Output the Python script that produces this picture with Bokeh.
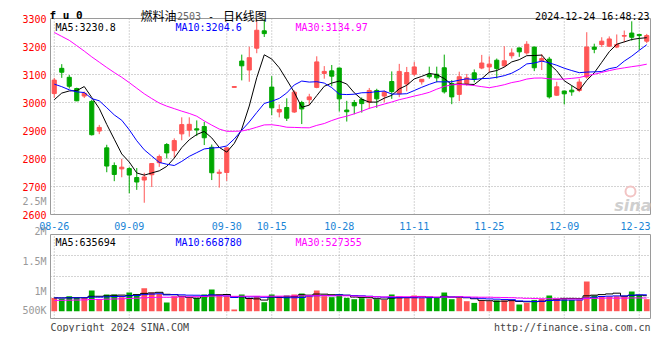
import pandas as pd
from bokeh.plotting import figure
from bokeh.models import Range1d, ColumnDataSource
from bokeh.core.properties import value
from bokeh.embed import file_html
from bokeh.resources import INLINE

# ---------------- data ----------------
dates = ["08-26", "08-27", "08-28", "08-29", "08-30",
         "09-02", "09-03", "09-04", "09-05", "09-06", "09-09", "09-10", "09-11", "09-12", "09-13",
         "09-18", "09-19", "09-20", "09-23", "09-24", "09-25", "09-26", "09-27", "09-30",
         "10-08", "10-09", "10-10", "10-11", "10-14", "10-15", "10-16", "10-17", "10-18",
         "10-21", "10-22", "10-23", "10-24", "10-25", "10-28", "10-29", "10-30", "10-31",
         "11-01", "11-04", "11-05", "11-06", "11-07", "11-08", "11-11", "11-12", "11-13", "11-14", "11-15",
         "11-18", "11-19", "11-20", "11-21", "11-22", "11-25", "11-26", "11-27", "11-28", "11-29",
         "12-02", "12-03", "12-04", "12-05", "12-06", "12-09", "12-10", "12-11", "12-12", "12-13",
         "12-16", "12-17", "12-18", "12-19", "12-20", "12-23", "12-24"]

opens = [3032, 3122, 3090, 3050, 3023, 3004, 2898, 2838, 2775, 2763,
         2764, 2732, 2723, 2742, 2785, 2850, 2828, 2888, 2901, 2906,
         2914, 2840, 2747, 2750, 3054, 3148, 3116, 3194, 3256, 3055,
         2966, 2982, 2966, 3000, 3010, 3054, 3104, 3113, 3123, 2973,
         3000, 3011, 3001, 3043, 3023, 3075, 3031, 3066, 3101, 3074,
         3100, 3101, 3124, 3068, 3029, 3068, 3106, 3123, 3127, 3151,
         3131, 3167, 3195, 3177, 3198, 3149, 3155, 3026, 3041, 3044,
         3043, 3091, 3198, 3207, 3201, 3198, 3237, 3248, 3243, 3219]
highs = [3088, 3137, 3098, 3053, 3039, 3010, 2920, 2849, 2786, 2799,
         2769, 2766, 2749, 2784, 2814, 2855, 2872, 2947, 2947, 2936,
         2931, 2850, 2761, 2841, 3057, 3171, 3199, 3310, 3305, 3094,
         2993, 3015, 3043, 3006, 3031, 3165, 3130, 3134, 3124, 3006,
         3009, 3018, 3052, 3049, 3043, 3111, 3138, 3127, 3145, 3083,
         3128, 3128, 3171, 3080, 3110, 3102, 3118, 3170, 3165, 3157,
         3201, 3193, 3196, 3219, 3199, 3173, 3163, 3074, 3042, 3060,
         3085, 3251, 3210, 3233, 3236, 3243, 3257, 3290, 3245, 3245]
lows = [3017, 3088, 3050, 3005, 3016, 2882, 2887, 2751, 2719, 2733,
        2676, 2688, 2642, 2698, 2770, 2800, 2802, 2865, 2878, 2880,
        2848, 2723, 2696, 2720, 3054, 3079, 3074, 3176, 3234, 2955,
        2947, 2934, 2963, 2923, 2990, 3051, 3085, 3058, 2968, 2932,
        2958, 2964, 2977, 2981, 3001, 3013, 3019, 3040, 3095, 3064,
        3085, 3072, 3032, 2994, 3005, 3060, 3072, 3119, 3107, 3086,
        3127, 3157, 3163, 3171, 3112, 3116, 3014, 3024, 2993, 3024,
        3037, 3085, 3176, 3198, 3198, 3194, 3215, 3221, 3188, 3212]
closes = [3080, 3108, 3058, 3006, 3033, 2885, 2911, 2773, 2743, 2769,
          2741, 2716, 2734, 2782, 2807, 2820, 2864, 2921, 2922, 2902,
          2874, 2749, 2751, 2838, 3057, 3131, 3160, 3258, 3246, 2981,
          2975, 2944, 3037, 2977, 3020, 3145, 3111, 3094, 3013, 2967,
          2988, 2996, 3043, 3013, 3037, 3039, 3111, 3107, 3127, 3083,
          3092, 3088, 3038, 3020, 3092, 3088, 3084, 3141, 3137, 3121,
          3149, 3177, 3181, 3208, 3124, 3157, 3020, 3056, 3031, 3038,
          3073, 3198, 3190, 3219, 3227, 3207, 3239, 3233, 3239, 3239]
volumes = [543000, 502000, 612000, 543000, 543000, 845000, 502000, 682000, 682000, 571000,
           763000, 682000, 939000, 763000, 706000, 355000, 612000, 612000, 543000, 543000,
           682000, 886000, 682000, 612000, 69000, 682000, 543000, 612000, 367000, 682000,
           612000, 641000, 682000, 722000, 612000, 845000, 612000, 571000, 682000, 543000,
           490000, 531000, 502000, 490000, 461000, 682000, 600000, 543000, 641000, 543000,
           543000, 543000, 763000, 490000, 543000, 408000, 339000, 437000, 408000, 437000,
           437000, 437000, 273000, 339000, 461000, 502000, 641000, 502000, 502000, 461000,
           461000, 1212000, 641000, 612000, 600000, 612000, 612000, 804000, 650000, 490000]

# sessions before 08-26 (needed for the moving averages at the left edge)
pre_closes = [3528, 3478, 3576, 3620, 3500, 3480, 3343, 3283, 3279, 3311,
              3316, 3334, 3292, 3287, 3150, 3134, 3191, 3162, 3202, 3380,
              3199, 3171, 3078, 3057, 3101, 2990, 3020, 3000, 2960]
pre_volumes = [360000, 390000, 410000, 370000, 350000, 400000, 380000, 420000, 390000, 360000,
               380000, 410000, 400000, 370000, 390000, 360000, 400000, 380000, 420000, 390000,
               520000, 560000, 540000, 510000, 570000, 530000, 560000, 540000, 550000]

price_ticks = [2600, 2700, 2800, 2900, 3000, 3100, 3200, 3300]
date_ticks = ["08-26", "09-09", "09-30", "10-15", "10-28", "11-11", "11-25", "12-09", "12-23"]
vol_tick_values = [500000, 1000000, 1500000, 2000000, 2500000]
vol_tick_labels = ["500K", "1M", "1.5M", "2M", "2.5M"]
ma_periods = [5, 10, 30]
ma_price_values = ["3230.8", "3204.6", "3134.97"]
ma_vol_values = ["635694", "668780", "527355"]
title_code = "f u 0"
title_name = "燃料油"
title_contract = "2503"
title_dash = "-"
title_kind = "日K线图"
timestamp = "2024-12-24 16:48:23"
copyright_text = "Copyright 2024 SINA.COM"
url_text = "http://finance.sina.com.cn"

# ---------------- layout / style ----------------
W, H = 652, 332                 # canvas
L, R = 50, 650                  # panel left / right edge (px)
P_TOP, P_BOT = 18, 214          # price panel (px)
V_TOP, V_BOT = 234, 318         # volume panel (px)
V_BASE = 310.7                  # volume zero line (px)
V_SCALE = 24.5e-6               # px per lot
LAB_1M, LAB_SCALE = 290.7, 60e-6  # Sina's volume label scale (px, px per lot)
LAB_FLOOR = 310.0               # lowest px a volume label is drawn at

MONO = "DejaVu Sans Mono"
CJK = "Noto Sans CJK SC"
UP = "#ff5555"
DOWN = "#00a800"
MA_COLORS = ["#000000", "#0000ff", "#ff00ff"]
GRID_C = "#a8a8a8"
FRAME = "#9a9a9a"
GRAY = "#999999"
BLUE = "#1a85d6"

n = len(dates)
slot = (R - L) / n
idx = list(range(n))
tick_idx = [dates.index(d) for d in date_ticks]

# ranges: one frame over the whole canvas, separate value scales per panel
x0 = -0.5 - L / slot
xr = Range1d(x0, x0 + W / slot)
p_per_px = (price_ticks[-1] - price_ticks[0]) / (P_BOT - P_TOP)
yr_price = Range1d(price_ticks[0] - (H - P_BOT) * p_per_px, price_ticks[-1] + P_TOP * p_per_px)
yr_vol = Range1d(-(H - V_BASE) / V_SCALE, V_BASE / V_SCALE)
yr_lab = Range1d(1e6 - (H - LAB_1M) / LAB_SCALE, 1e6 + LAB_1M / LAB_SCALE)
vol_hi = (V_BASE - V_TOP) / V_SCALE
vol_lo = (V_BASE - V_BOT) / V_SCALE

all_c = pd.Series(pre_closes + closes, dtype=float)
all_v = pd.Series(pre_volumes + volumes, dtype=float)
ma_price = [all_c.rolling(p).mean().iloc[len(pre_closes):].tolist() for p in ma_periods]
ma_vol = [all_v.rolling(p).mean().iloc[len(pre_volumes):].tolist() for p in ma_periods]

p_hi, p_lo = price_ticks[-1], price_ticks[0]
colors = [UP if c >= o else DOWN for o, c in zip(opens, closes)]
src = ColumnDataSource(dict(
    x=idx, h=[min(h, p_hi) for h in highs], l=lows, v=volumes,
    top=[max(o, c) for o, c in zip(opens, closes)],
    bottom=[min(o, c) for o, c in zip(opens, closes)],
    color=colors))

p = figure(width=W, height=H, x_range=xr, y_range=yr_price,
           x_axis_location=None, y_axis_location=None,
           output_backend="svg", toolbar_location=None, tools="",
           min_border=0, outline_line_color=None,
           background_fill_color="white", border_fill_color="white")
p.grid.visible = False
p.extra_y_ranges = {"vol": yr_vol, "lab": yr_lab, "py": Range1d(H, 0)}
p.extra_x_ranges = {"px": Range1d(0, W)}

GRID = dict(line_color=GRID_C, line_dash="1 2", line_width=1)

# ---- grids ----
p.segment(x0=tick_idx, y0=[p_lo] * len(tick_idx), x1=tick_idx, y1=[p_hi] * len(tick_idx), **GRID)
mid_prices = price_ticks[1:-1]
p.segment(x0=[-0.5] * len(mid_prices), y0=mid_prices, x1=[n - 0.5] * len(mid_prices),
          y1=mid_prices, **GRID)
p.segment(x0=tick_idx, y0=[vol_lo] * len(tick_idx), x1=tick_idx, y1=[vol_hi] * len(tick_idx),
          y_range_name="vol", **GRID)
quarters = [vol_lo + q * (vol_hi - vol_lo) / 4 for q in (1, 2, 3)]
p.segment(x0=[-0.5] * 3, y0=quarters, x1=[n - 0.5] * 3, y1=quarters, y_range_name="vol", **GRID)

# ---- price panel ----
p.segment(x0="x", y0="h", x1="x", y1="l", color="color", line_width=1, source=src)
p.vbar(x="x", width=0.55, top="top", bottom="bottom", fill_color="color",
       line_color="color", line_width=1, source=src)
for vals, col in zip(ma_price, MA_COLORS):
    p.line(idx, vals, line_color=col, line_width=1)
p.quad(left=[-0.5], right=[n - 0.5], bottom=[p_lo], top=[p_hi], fill_color=None,
       line_color=FRAME, line_width=1)

# ---- volume panel ----
p.vbar(x="x", width=0.76, top="v", bottom=0, fill_color="color", line_color=None,
       source=src, y_range_name="vol")
for vals, col in zip(ma_vol, MA_COLORS):
    p.step(idx, vals, mode="center", line_color=col, line_width=1, y_range_name="vol")
p.quad(left=[-0.5], right=[n - 0.5], bottom=[vol_lo], top=[vol_hi], fill_color=None,
       line_color=FRAME, line_width=1, y_range_name="vol")


def txt(x, y, text, color="#000000", align="left", baseline="alphabetic", font=MONO,
        size="10px", style="normal", xr_name="default", yr_name="py", x_off=0):
    p.text(x=x, y=y, text=text, text_color=color, text_align=align, text_baseline=baseline,
           text_font=value(font), text_font_size=size, text_font_style=style,
           x_offset=x_off, x_range_name=xr_name, y_range_name=yr_name)


# price axis labels (red) and volume scale labels (gray), right-aligned left of the panels
txt([-0.5] * len(price_ticks), price_ticks, [str(t) for t in price_ticks], "#ff0000",
    align="right", baseline="middle", yr_name="default", x_off=-4)
lab_floor_val = 1e6 - (LAB_FLOOR - LAB_1M) / LAB_SCALE
txt([-0.5] * len(vol_tick_values), [max(v, lab_floor_val) for v in vol_tick_values],
    vol_tick_labels, GRAY, align="right", baseline="middle", yr_name="lab", x_off=-4)

# date labels between the panels, kept inside the panel's right edge
half = 2.5 * 6.02
date_x = []
for i in tick_idx:
    cx = L + slot * (i + 0.5)
    date_x.append(min(cx, R - half) / 1.0)
txt(date_x, [225] * len(date_x), date_ticks, BLUE, align="center", xr_name="px")

# MA headers
for j, (per, val, col) in enumerate(zip(ma_periods, ma_price_values, MA_COLORS)):
    txt([L + 5 + 120 * j], [27.3], ["MA%d:%s" % (per, val)], col, xr_name="px")
for j, (per, val, col) in enumerate(zip(ma_periods, ma_vol_values, MA_COLORS)):
    txt([L + 5 + 120 * j], [241.7], ["MA%d:%s" % (per, val)], col, xr_name="px")

# title row
txt([49], [15.3], [title_code], size="11px", style="bold", xr_name="px")
txt([140], [14.5], [title_name], font=CJK, size="12px", xr_name="px")
txt([176.5], [15], [title_contract], "#666666", xr_name="px")
txt([207.5], [15], [title_dash], xr_name="px")
txt([222.5], [14.5], [title_kind], font=CJK, size="12px", xr_name="px")
txt([649], [16], [timestamp], align="right", xr_name="px")

# footer
txt([L], [327], [copyright_text], "#444444", xr_name="px")
txt([R], [327], [url_text], "#444444", align="right", xr_name="px")

# watermark
p.circle(x=[630], y=[191], radius=5, fill_color=None, line_color="#f2c4c4", line_width=2,
         x_range_name="px", y_range_name="py")
txt([651], [205], ["sina"], "#cfcfcf", align="right", font="DejaVu Sans", size="16px",
    style="bold italic", xr_name="px")

open("out.html", "w").write(file_html(p, INLINE))
